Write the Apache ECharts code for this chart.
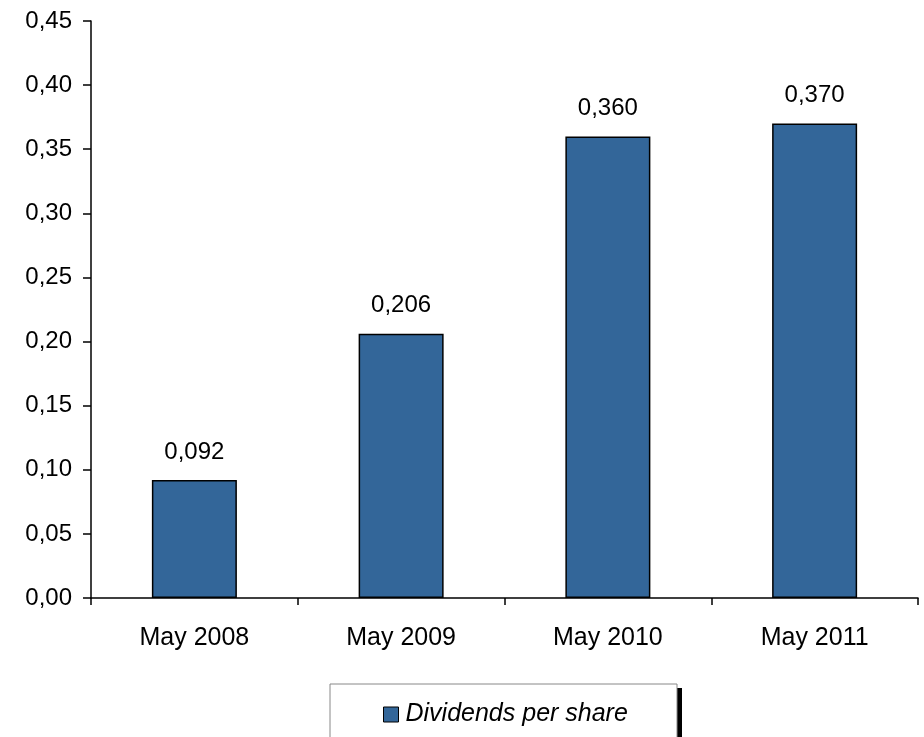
<!DOCTYPE html>
<html>
<head>
<meta charset="utf-8">
<script src="https://cdn.jsdelivr.net/npm/echarts@6/dist/echarts.min.js"></script>
<style>
html,body{margin:0;padding:0;background:#fff;}
#chart{width:924px;height:737px;}
</style>
</head>
<body>
<div id="chart"></div>
<script>
// Dividends per share by period
const categories = ['May 2008', 'May 2009', 'May 2010', 'May 2011'];
const dividends = [0.092, 0.206, 0.360, 0.370];
const seriesName = 'Dividends per share';

const FONT = '"Liberation Sans", Arial, sans-serif';
const comma = (v, d) => v.toFixed(d).replace('.', ',');

const chart = echarts.init(document.getElementById('chart'));
chart.setOption({
  animation: false,
  grid: { left: 91, right: 6, top: 21, bottom: 139, containLabel: false },
  xAxis: {
    type: 'category',
    data: categories,
    axisLine: { lineStyle: { color: '#000', width: 1.5 } },
    axisTick: { show: true, length: 7, alignWithLabel: false, lineStyle: { color: '#000', width: 1.5 } },
    axisLabel: { color: '#000', fontSize: 25, fontFamily: FONT, margin: 28 }
  },
  yAxis: {
    type: 'value',
    min: 0, max: 0.45, interval: 0.05,
    axisLine: { show: true, lineStyle: { color: '#000', width: 1.5 } },
    axisTick: { show: true, length: 8, lineStyle: { color: '#000', width: 1.5 } },
    splitLine: { show: false },
    axisLabel: { color: '#000', fontSize: 24, fontFamily: FONT, margin: 19,
      formatter: v => comma(v, 2) }
  },
  // legend frame with a hard drop shadow
  graphic: [
    { type: 'rect', z: 1, shape: { x: 335, y: 688, width: 347, height: 60 },
      style: { fill: '#000' } },
    { type: 'rect', z: 2, shape: { x: 330, y: 684, width: 347, height: 60 },
      style: { fill: '#fff', stroke: '#888', lineWidth: 1 } }
  ],
  legend: {
    data: [{ name: seriesName, icon: 'rect' }],
    left: 383,
    top: 702,
    padding: 0,
    itemWidth: 15, itemHeight: 15,
    itemGap: 8,
    itemStyle: { borderColor: '#000', borderWidth: 1 },
    textStyle: { color: '#000', fontSize: 25, fontStyle: 'italic', fontFamily: FONT, padding: [0, 0, 0, 2] }
  },
  series: [{
    name: seriesName,
    type: 'bar',
    data: dividends,
    barWidth: 85,
    itemStyle: { color: '#336699', borderColor: '#000', borderWidth: 1.5 },
    label: {
      show: true, position: 'top', distance: 16,
      color: '#000', fontSize: 24, fontFamily: FONT,
      formatter: p => comma(p.value, 3)
    }
  }]
});
</script>
</body>
</html>
